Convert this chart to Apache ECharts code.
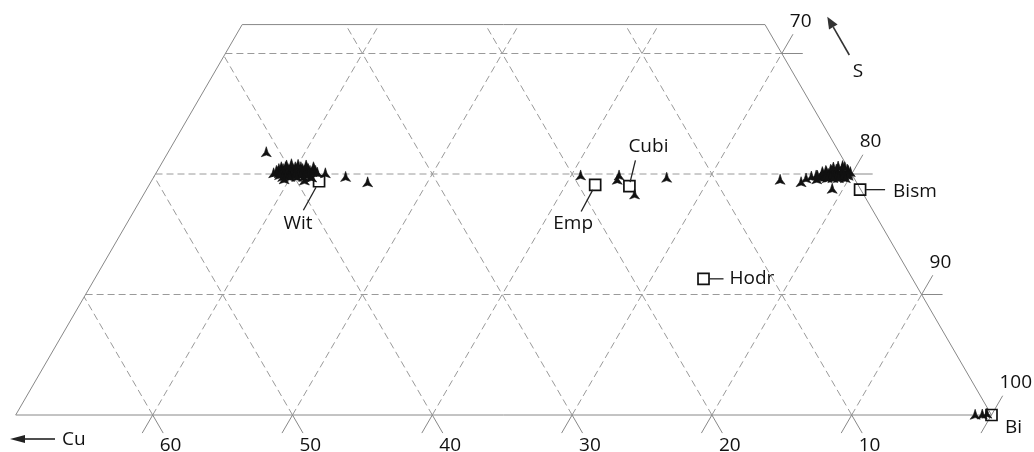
<!DOCTYPE html>
<html><head><meta charset="utf-8">
<script src="https://cdn.jsdelivr.net/npm/echarts@6/dist/echarts.min.js"></script>
<style>html,body{margin:0;padding:0;background:#fff}#c{width:1034px;height:452px}</style>
</head><body><div id="c"></div>
<script>
// ---- data (wt%) ----
const cuTickLabels = [60, 50, 40, 30, 20, 10];
const biTickLabels = [70, 80, 90, 100];
const sGridLevels = [10, 20, 30];
const biGridLevels = [40, 50, 60, 70, 80, 90];
const cuGridLevels = [10, 20, 30, 40, 50, 60];

const mineralNames = ['Wit', 'Emp', 'Cubi', 'Hodr', 'Bism', 'Bi'];
const mineralBi = [42.2, 62.1, 64.6, 73.75, 81.25, 100];
const mineralS  = [19.4, 19.1, 19.0, 11.3, 18.7, 0];

// analyses: Bi wt%, S wt%
const analysisBi = [
  // wittichenite-like grains
  38.9, 39.2, 39.6, 39.9, 40.3, 40.7,
  38.8, 39.1, 39.45, 39.8, 40.1, 40.5, 40.9, 41.3,
  38.7, 39.0, 39.3, 39.7, 40.0, 40.4, 40.7, 41.1, 41.5,
  38.8, 39.15, 39.5, 39.85, 40.2, 40.55, 40.9, 41.3,
  38.6, 39.0, 39.3, 39.7, 40.1, 40.4, 40.8, 41.1,
  39.1, 39.5, 39.8, 40.2, 40.6, 41.0,
  39.4, 39.9, 40.4, 40.9, 41.4,
  39.6, 41.1, 41.5, 39.5, 41.2, 41.7, 40.0, 39.2, 40.6,
  37.2, 43.9, 45.7, 42.3,
  // intermediate
  60.65, 63.4, 63.45, 65.3, 66.9,
  // bismuthinite-like grains
  76.9, 77.2, 77.5, 77.9, 77.7,
  78.3, 78.7, 79.1, 79.5,
  78.0, 78.4, 78.8, 79.2, 79.6,
  77.8, 78.1, 78.5, 78.9, 79.2, 79.6, 79.8,
  77.9, 78.3, 78.6, 79.0, 79.4, 79.7,
  77.6, 78.1, 78.4, 78.8, 79.1, 79.5, 79.8,
  78.2, 78.6, 79.0, 79.4,
  78.4, 78.8, 79.2, 79.7,
  78.7, 78.4, 79.2, 79.0,
  75.1, 76.7, 79.2,
  // native bismuth
  98.8, 99.3, 99.6
];
const analysisS = [
  20.6, 20.6, 20.6, 20.6, 20.6, 20.6,
  20.45, 20.45, 20.45, 20.45, 20.45, 20.45, 20.45, 20.45,
  20.3, 20.3, 20.3, 20.3, 20.3, 20.3, 20.3, 20.3, 20.3,
  20.2, 20.2, 20.2, 20.2, 20.2, 20.2, 20.2, 20.2,
  20.1, 20.1, 20.1, 20.1, 20.1, 20.1, 20.1, 20.1,
  19.95, 19.95, 19.95, 19.95, 19.95, 19.95,
  19.8, 19.8, 19.8, 19.8, 19.8,
  19.6, 19.5, 19.75, 20.85, 20.6, 20.15, 20.8, 20.75, 20.75,
  21.85, 19.8, 19.35, 20.1,
  19.92, 19.92, 19.56, 18.34, 19.73,
  19.67, 19.83, 19.92, 19.75, 19.6,
  20.4, 20.4, 20.4, 20.4,
  20.3, 20.3, 20.3, 20.3, 20.3,
  20.2, 20.2, 20.2, 20.2, 20.2, 20.2, 20.2,
  20.05, 20.05, 20.05, 20.05, 20.05, 20.05,
  19.9, 19.9, 19.9, 19.9, 19.9, 19.9, 19.9,
  19.8, 19.8, 19.8, 19.8,
  19.7, 19.7, 19.7, 19.7,
  20.66, 20.58, 20.6, 20.7,
  19.56, 19.36, 18.81,
  0.06, 0.08, 0.15
];

// ---- geometry / layout ----
const LEFT_BI = 30.2, TOP_S = 32.4;
const PXU_X = 13.98, PXU_Y = 12.05, CORNER_PX = 991.5, BASE_PY = 415;
const X_MIN = 30, X_MAX = 103, Y_MIN = -3, Y_MAX = 34.4;
const FONT = '19px "Open Sans", sans-serif';
const TXT = '#111';

function xy(bi, s) { return [bi + s / 2, s]; }
function seg(a, b) { return xy(a[0], a[1]).concat(xy(b[0], b[1])); }

const border = [
  seg([LEFT_BI, 0], [100, 0]),
  seg([100, 0], [100 - TOP_S, TOP_S]),
  seg([100 - TOP_S, TOP_S], [LEFT_BI, TOP_S]),
  seg([LEFT_BI, TOP_S], [LEFT_BI, 0])
];
const dashed = [];
sGridLevels.forEach(s => dashed.push(seg([LEFT_BI, s], [100 - s, s])));
biGridLevels.forEach(bi => dashed.push(seg([bi, 0], [bi, Math.min(TOP_S, 100 - bi)])));
cuGridLevels.forEach(cu => {
  const sEnd = Math.min(TOP_S, 100 - cu - LEFT_BI);
  dashed.push(seg([100 - cu, 0], [100 - cu - sEnd, sEnd]));
});
const ticks = [];
cuTickLabels.forEach(cu => {
  const bi = 100 - cu;
  ticks.push(seg([bi, 0], [bi, -1.5]));
  ticks.push(seg([bi, 0], [bi + 1.5, -1.5]));
});
biTickLabels.forEach(bi => {
  const s = 100 - bi;
  if (bi < 100) ticks.push(seg([bi, s], [bi + 1.5, s]));
  ticks.push(seg([bi, s], [bi, s + 1.6]));
  if (bi === 100) ticks.push(seg([bi, s], [bi, s - 1.5]));
});

function segSeries(data, color, dash, z) {
  return {
    type: 'custom', coordinateSystem: 'cartesian2d', silent: true, z: z,
    data: data, encode: { x: [0, 2], y: [1, 3] },
    renderItem: (params, api) => {
      const p1 = api.coord([api.value(0), api.value(1)]);
      const p2 = api.coord([api.value(2), api.value(3)]);
      return { type: 'line', shape: { x1: p1[0], y1: p1[1], x2: p2[0], y2: p2[1] },
        style: { stroke: color, lineWidth: 1, lineDash: dash || null } };
    }
  };
}

// label layout for reference minerals (px offsets from square centre)
const mineralLayout = [
  { line: [[-3, 6], [-15.7, 29]], text: [-21, 42], align: 'center' },
  { line: [[-2.4, 5], [-14, 26.7]], text: [-22, 39], align: 'center' },
  { line: [[0.7, -4], [6, -25.7]], text: [19, -39], align: 'center' },
  { line: [[6, 0], [20, 0]], text: [26, 0], align: 'left' },
  { line: [[6, 0], [25, 0]], text: [33, 1.5], align: 'left' },
  { line: null, text: [22, 12.5], align: 'center' }
];

const tickLabelData = cuTickLabels.map(cu => xy(100 - cu, 0).concat([0]))
  .concat(biTickLabels.map(bi => xy(bi, 100 - bi).concat([1])));
const tickLabelText = cuTickLabels.concat(biTickLabels).map(String);

const chart = echarts.init(document.getElementById('c'), null, { renderer: 'canvas' });
chart.setOption({
  animation: false,
  backgroundColor: '#fff',
  grid: {
    left: CORNER_PX - PXU_X * (100 - X_MIN), width: PXU_X * (X_MAX - X_MIN),
    top: BASE_PY - PXU_Y * Y_MAX, height: PXU_Y * (Y_MAX - Y_MIN)
  },
  xAxis: { type: 'value', min: X_MIN, max: X_MAX, show: false, splitLine: { show: false } },
  yAxis: { type: 'value', min: Y_MIN, max: Y_MAX, show: false, splitLine: { show: false } },
  series: [
    segSeries(dashed, '#9a9a9a', [7, 4], 1),
    segSeries(border, '#888', null, 2),
    segSeries(ticks, '#888', null, 2),
    {
      type: 'scatter', z: 5, silent: true,
      symbol: 'path://M5,0 L6.7,5.3 L10,9.6 L5,8 L0,9.6 L3.3,5.3 Z',
      symbolSize: [10, 10],
      itemStyle: { color: '#111', opacity: 1, borderColor: '#111', borderWidth: 0.6 },
      data: analysisBi.map((bi, i) => xy(bi, analysisS[i]))
    },
    {
      type: 'custom', coordinateSystem: 'cartesian2d', silent: true, z: 6,
      data: mineralBi.map((bi, i) => xy(bi, mineralS[i])),
      renderItem: (params, api) => {
        const i = params.dataIndex;
        const p = api.coord([api.value(0), api.value(1)]);
        const L = mineralLayout[i];
        const children = [{
          type: 'rect', shape: { x: p[0] - 5.5, y: p[1] - 5.5, width: 11, height: 11 },
          style: { fill: 'none', stroke: '#111', lineWidth: 1.7 }
        }];
        if (L.line) children.push({
          type: 'line', shape: { x1: p[0] + L.line[0][0], y1: p[1] + L.line[0][1], x2: p[0] + L.line[1][0], y2: p[1] + L.line[1][1] },
          style: { stroke: '#222', lineWidth: 1.3 }
        });
        children.push({
          type: 'text', x: p[0] + L.text[0], y: p[1] + L.text[1],
          style: { text: mineralNames[i], font: FONT, fill: TXT, align: L.align, verticalAlign: 'middle' }
        });
        return { type: 'group', children: children };
      }
    },
    {
      type: 'custom', coordinateSystem: 'cartesian2d', silent: true, z: 6,
      data: tickLabelData,
      renderItem: (params, api) => {
        const p = api.coord([api.value(0), api.value(1)]);
        const right = api.value(2) === 1;
        return {
          type: 'text', x: p[0] + (right ? 8 : 7), y: p[1] + (right ? -32 : 30.5),
          style: { text: tickLabelText[params.dataIndex], font: FONT, fill: TXT, align: 'left', verticalAlign: 'middle' }
        };
      }
    }
  ],
  graphic: [
    { type: 'line', shape: { x1: 849.3, y1: 55, x2: 833.3, y2: 27.1 }, style: { stroke: '#333', lineWidth: 1.6 } },
    { type: 'polygon', shape: { points: [[827.3, 16.7], [837.6, 24.6], [829.0, 29.6]] }, style: { fill: '#333' } },
    { type: 'text', x: 858, y: 72, style: { text: 'S', font: FONT, fill: TXT, align: 'center', verticalAlign: 'middle' } },
    { type: 'line', shape: { x1: 55, y1: 439, x2: 24, y2: 439 }, style: { stroke: '#222', lineWidth: 1.6 } },
    { type: 'polygon', shape: { points: [[10, 439], [25, 435], [25, 443]] }, style: { fill: '#222' } },
    { type: 'text', x: 62, y: 440, style: { text: 'Cu', font: FONT, fill: TXT, align: 'left', verticalAlign: 'middle' } }
  ]
});
</script></body></html>
